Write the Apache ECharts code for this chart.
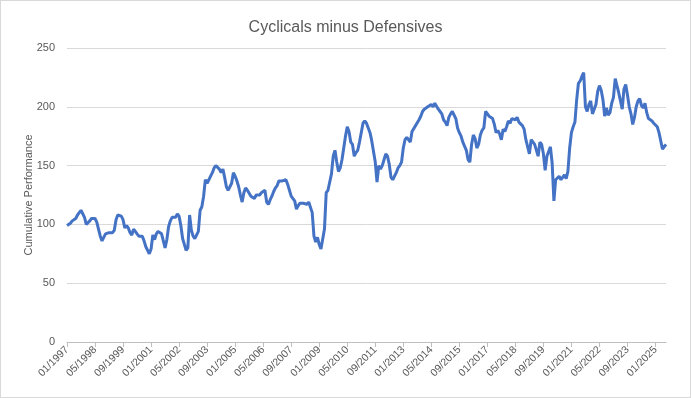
<!DOCTYPE html>
<html>
<head>
<meta charset="utf-8">
<script src="https://cdn.jsdelivr.net/npm/echarts@6/dist/echarts.min.js"></script>
<style>
  html, body { margin: 0; padding: 0; background: #fff; }
  #chart { width: 689px; height: 396px; border: 1px solid #d9d9d9; }
</style>
</head>
<body>
<div id="chart"></div>
<script>
// monthly index, 01/1997 .. 07/2025
const startYear = 1997;
const values = [
  99, 100, 101, 103, 104, 105, 108, 110, 112, 111, 106, 100, // 1997
  101, 103, 105, 105, 105, 102, 96, 90, 86, 89, 92, 92,      // 1998
  93, 94, 93, 95, 104, 108, 108, 107, 104, 97, 99, 97,       // 1999
  93, 91, 96, 94, 92, 90, 89, 90, 86, 81, 78, 75,            // 2000
  79, 91, 87, 92, 94, 95, 92, 86, 80, 87, 98, 103,           // 2001
  106, 105, 106, 109, 107, 99, 88, 83, 78, 80, 108, 95,      // 2002
  90, 88, 87, 94, 112, 115, 124, 138, 135, 138, 141, 144,    // 2003
  148, 150, 149, 147, 144, 147, 140, 132, 129, 129, 135, 144, // 2004
  141, 137, 132, 125, 119, 127, 131, 129, 128, 124, 123, 122, // 2005
  125, 126, 125, 127, 128, 129, 119, 117, 121, 124, 128, 131, // 2006
  133, 137, 136, 137, 138, 138, 134, 129, 124, 122, 120, 113, // 2007
  116, 118, 117, 118, 118, 117, 119, 120, 110, 90, 85, 89,   // 2008
  83, 79, 78, 96, 127, 129, 130, 143, 158, 163, 153, 145,    // 2009
  148, 155, 165, 175, 183, 179, 170, 168, 158, 161, 163, 170, // 2010
  178, 186, 188, 186, 182, 178, 171, 162, 153, 136, 150, 147, // 2011
  150, 155, 160, 158, 151, 140, 138, 138, 144, 148, 150, 153, // 2012
  165, 172, 174, 175, 170, 179, 180, 184, 183, 189, 192, 196, // 2013
  198, 199, 200, 201, 202, 200, 203, 202, 198, 196, 194, 189, // 2014
  187, 184, 191, 194, 196, 197, 190, 182, 178, 175, 170, 171, // 2015
  163, 155, 153, 168, 176, 173, 165, 168, 176, 180, 182, 196, // 2016
  196, 192, 193, 190, 185, 178, 180, 177, 172, 181, 179, 183, // 2017
  188, 186, 190, 189, 189, 191, 187, 186, 184, 181, 172, 171, // 2018
  160, 172, 171, 168, 168, 158, 170, 168, 160, 146, 158, 162, // 2019
  166, 152, 120, 138, 137, 141, 138, 140, 142, 139, 145, 165, // 2020
  178, 183, 187, 206, 220, 222, 226, 229, 200, 196, 202, 205, // 2021
  194, 193, 202, 213, 218, 214, 206, 192, 199, 193, 195, 203, // 2022
  208, 224, 225, 212, 205, 198, 215, 219, 210, 200, 194, 185, // 2023
  191, 200, 205, 207, 201, 199, 203, 195, 190, 191, 188, 186, // 2024
  185, 183, 178, 171, 164, 165, 168                           // 2025
];

const months = [];
for (let i = 0; i < values.length; i++) {
  const y = startYear + Math.floor(i / 12);
  const m = (i % 12) + 1;
  months.push((m < 10 ? '0' + m : '' + m) + '/' + y);
}

const yTicks = [0, 50, 100, 150, 200, 250];
const textColor = '#595959';
const font = 'Liberation Sans';

const myChart = echarts.init(document.getElementById('chart'));

const option = {
  animation: false,
  title: {
    text: 'Cyclicals minus Defensives',
    left: 'center',
    top: 14,
    textStyle: { color: textColor, fontSize: 16, fontWeight: 'normal', fontFamily: font }
  },
  grid: { left: 66, right: 24, top: 47, bottom: 55 },
  xAxis: {
    type: 'category',
    data: months,
    boundaryGap: false,
    axisLine: { lineStyle: { color: '#bfbfbf' } },
    axisTick: { interval: 15, length: 5, lineStyle: { color: '#bfbfbf' } },
    axisLabel: {
      interval: 15,
      rotate: 45,
      color: textColor,
      fontSize: 10.5,
      fontFamily: font,
      margin: 6
    }
  },
  yAxis: {
    type: 'value',
    min: yTicks[0],
    max: yTicks[yTicks.length - 1],
    interval: 50,
    name: 'Cumulative Performance',
    nameLocation: 'middle',
    nameGap: 33,
    nameMoveOverlap: false,
    nameTextStyle: { color: textColor, fontSize: 11, fontFamily: font },
    axisLine: { show: false },
    axisTick: { show: false },
    axisLabel: { color: textColor, fontSize: 11, fontFamily: font, margin: 12 },
    splitLine: { lineStyle: { color: '#d9d9d9' } }
  },
  series: [
    {
      name: 'Cyclicals minus Defensives',
      type: 'line',
      data: values,
      showSymbol: false,
      lineStyle: { color: '#4472C4', width: 3 },
      itemStyle: { color: '#4472C4' }
    }
  ]
};

myChart.setOption(option);
</script>
</body>
</html>
